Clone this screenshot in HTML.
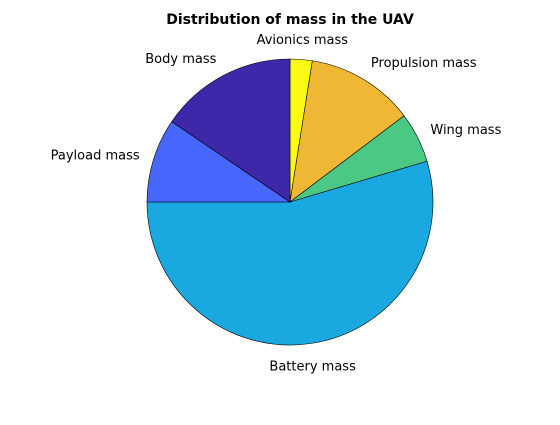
<!DOCTYPE html>
<html><head><meta charset="utf-8"><style>
body{margin:0;background:#fff;}
svg text{font-family:"DejaVu Sans","Liberation Sans",sans-serif;font-size:13px;fill:#000;}
</style></head><body>
<svg id="chart" width="560" height="420" viewBox="0 0 560 420">
<rect width="560" height="420" fill="#fff"/>
<text x="290" y="24" text-anchor="middle" style="font-weight:bold;font-size:14px">Distribution of mass in the UAV</text>
<g id="slices"></g><g id="labels"></g>
</svg>
<script>
const categories = ["Avionics mass","Propulsion mass","Wing mass","Battery mass","Payload mass","Body mass"];
const values = [2.5, 12.2, 5.7, 54.6, 9.5, 15.5];
const colors = ["#f9fb15","#efb734","#4bc984","#1aa8e0","#4666fd","#3e27a8"];
const cx = 290, cy = 202, R = 143;
const ns = "http://www.w3.org/2000/svg";
const total = values.reduce((a,b)=>a+b,0);
const gS = document.getElementById('slices'), gL = document.getElementById('labels');
function pt(a, r){ return [cx + r*Math.sin(a), cy - r*Math.cos(a)]; }
let a0 = 0;
values.forEach((v,i)=>{
  const a1 = a0 + v/total*2*Math.PI;
  const [x0,y0] = pt(a0,R), [x1,y1] = pt(a1,R);
  const large = (a1-a0) > Math.PI ? 1 : 0;
  const p = document.createElementNS(ns,'path');
  p.setAttribute('d',`M${cx},${cy} L${x0},${y0} A${R},${R} 0 ${large} 1 ${x1},${y1} Z`);
  p.setAttribute('fill',colors[i]);
  p.setAttribute('stroke','#000');
  p.setAttribute('stroke-width','0.6');
  
  
  gS.appendChild(p);
  const am = (a0+a1)/2;
  let [lx,ly] = pt(am, R*1.1);
  const s = Math.sin(am), c = Math.cos(am);
  let anchor = Math.abs(s) < 0.25 ? 'middle' : (s > 0 ? 'start' : 'end');
  ly += -c*7 + 6;
  const t = document.createElementNS(ns,'text');
  t.setAttribute('x',lx); t.setAttribute('y',ly);
  t.setAttribute('text-anchor',anchor);
  t.textContent = categories[i];
  
  
  gL.appendChild(t);
  a0 = a1;
});
</script>
</body></html>
